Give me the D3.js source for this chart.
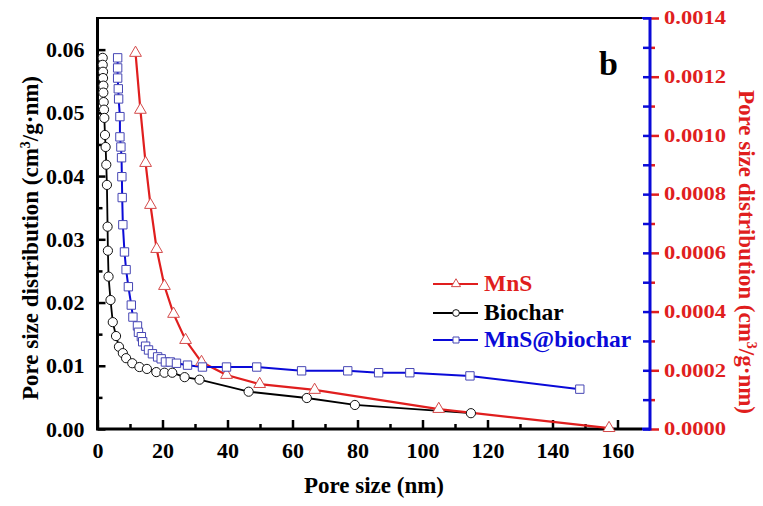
<!DOCTYPE html>
<html>
<head>
<meta charset="utf-8">
<script src="https://cdn.jsdelivr.net/npm/d3@7"></script>
<style>
  body { margin: 0; background: #fff; }
  text { font-family: "Liberation Serif", "Times New Roman", serif; font-weight: bold; }
</style>
</head>
<body>
<div id="chart"></div>
<script>
// MnS -> right axis, Biochar and MnS@biochar -> left axis
var mnsX = [11.7, 13.2, 14.8, 16.3, 18.2, 20.6, 23.4, 27.1, 32.0, 39.7, 49.9, 66.8, 105.0, 157.4];
var mnsY = [0.001281, 0.001087, 0.000906, 0.000763, 0.000613, 0.000487, 0.000392, 0.000303, 0.000228, 0.000184, 0.000153, 0.000133, 0.000068, 0.000003];

var biocharX = [1.6, 1.6, 1.7, 1.7, 1.8, 1.8, 1.9, 2.0, 2.1, 2.3, 2.5, 2.7, 2.9, 3.1, 3.2, 3.4, 4.0, 4.7, 5.7, 6.6, 7.8, 8.8, 10.7, 12.9, 15.2, 18.1, 20.6, 23.0, 26.8, 31.4, 46.5, 64.4, 79.2, 114.9];
var biocharY = [0.0587, 0.0576, 0.0565, 0.0555, 0.0543, 0.0532, 0.0517, 0.0505, 0.0492, 0.0465, 0.0446, 0.0418, 0.0386, 0.0320, 0.0282, 0.0241, 0.0204, 0.0169, 0.0147, 0.0130, 0.0120, 0.0112, 0.0104, 0.0098, 0.0095, 0.0090, 0.0089, 0.0089, 0.0082, 0.0078, 0.0059, 0.0049, 0.0038, 0.0025];

var mnsBiocharX = [6.2, 6.2, 6.2, 6.4, 6.5, 6.9, 6.9, 7.2, 7.4, 7.5, 7.6, 7.8, 8.3, 8.8, 9.5, 10.4, 10.9, 12.3, 12.6, 13.5, 13.9, 14.8, 15.7, 16.9, 18.5, 19.6, 20.9, 22.4, 24.3, 27.7, 32.3, 39.7, 49.0, 62.8, 77.0, 86.5, 96.1, 114.6, 148.4];
var mnsBiocharY = [0.0587, 0.0571, 0.0555, 0.0538, 0.0522, 0.0494, 0.0462, 0.0446, 0.0429, 0.0399, 0.0366, 0.0323, 0.0280, 0.0252, 0.0225, 0.0196, 0.0177, 0.0163, 0.0153, 0.0146, 0.0138, 0.0131, 0.0125, 0.0119, 0.0114, 0.0111, 0.0106, 0.0106, 0.0104, 0.0101, 0.0098, 0.0098, 0.0098, 0.0092, 0.0092, 0.0089, 0.0089, 0.0084, 0.0063];

var xTicks = [0, 20, 40, 60, 80, 100, 120, 140, 160];
var leftTicks = [0, 0.01, 0.02, 0.03, 0.04, 0.05, 0.06];
var rightTicks = [0, 0.0002, 0.0004, 0.0006, 0.0008, 0.0010, 0.0012, 0.0014];
var legendNames = ["MnS", "Biochar", "MnS@biochar"];

var RED = "#e01e1e", BLUE = "#0a0ad8", NAVY = "#4646b4";

var width = 763, height = 506;
var pL = 97.5, pR = 650, pT = 18, pB = 429;

var svg = d3.select("#chart").append("svg")
  .attr("width", width).attr("height", height);

var x = d3.scaleLinear().domain([0, 170]).range([pL, pR]);
var yL = d3.scaleLinear().domain([0, 0.065]).range([pB, pT]);
var yR = d3.scaleLinear().domain([0, 0.0014]).range([pB, pT]);

function pts(xs, ys) { return xs.map(function(v, i) { return [v, ys[i]]; }); }
var biochar = pts(biocharX, biocharY);
var mns = pts(mnsX, mnsY);
var mnsBiochar = pts(mnsBiocharX, mnsBiocharY);

// x axis
var xa = svg.append("g").attr("transform", "translate(0," + pB + ")")
  .call(d3.axisBottom(x).tickValues(xTicks).tickSize(-9).tickPadding(13).tickFormat(d3.format("d")));
xa.select(".domain").remove();
xa.selectAll("line").attr("stroke", "#000").attr("stroke-width", 2.5);
xa.selectAll("text").style("font-size", "22px").attr("fill", "#000");
var xm = svg.append("g").attr("transform", "translate(0," + pB + ")")
  .call(d3.axisBottom(x).tickValues(d3.range(10, 170, 20)).tickSize(-5).tickFormat(""));
xm.select(".domain").remove();
xm.selectAll("line").attr("stroke", "#000").attr("stroke-width", 2.5);

// left axis
var la = svg.append("g").attr("transform", "translate(" + pL + ",0)")
  .call(d3.axisLeft(yL).tickValues(leftTicks).tickSize(-8).tickPadding(13).tickFormat(d3.format(".2f")));
la.select(".domain").remove();
la.selectAll("line").attr("stroke", "#000").attr("stroke-width", 2.5);
la.selectAll("text").style("font-size", "22px").attr("fill", "#000");
var lm = svg.append("g").attr("transform", "translate(" + pL + ",0)")
  .call(d3.axisLeft(yL).tickValues(d3.range(0.005, 0.065, 0.01)).tickSize(-5).tickFormat(""));
lm.select(".domain").remove();
lm.selectAll("line").attr("stroke", "#000").attr("stroke-width", 2.5);

// right axis: blue inside, red outside
var ra = svg.append("g").attr("transform", "translate(" + pR + ",0)")
  .call(d3.axisRight(yR).tickValues(rightTicks).tickSize(9).tickPadding(5).tickFormat(d3.format(".4f")));
ra.select(".domain").remove();
ra.selectAll("line").attr("stroke", RED).attr("stroke-width", 2.5);
ra.selectAll("text").style("font-size", "18px").attr("fill", RED)
  .attr("textLength", 62).attr("lengthAdjust", "spacingAndGlyphs");
var rm = svg.append("g").attr("transform", "translate(" + pR + ",0)")
  .call(d3.axisRight(yR).tickValues(d3.range(0.0001, 0.0014, 0.0002)).tickSize(5).tickFormat(""));
rm.select(".domain").remove();
rm.selectAll("line").attr("stroke", RED).attr("stroke-width", 2.5);
var ri = svg.append("g").attr("transform", "translate(" + pR + ",0)")
  .call(d3.axisRight(yR).tickValues(d3.range(0, 0.00141, 0.0001)).tickSize(-7).tickFormat(""));
ri.select(".domain").remove();
ri.selectAll("line").attr("stroke", BLUE).attr("stroke-width", 2.5);

// frame
svg.append("line").attr("x1", pL).attr("x2", pR - 8).attr("y1", pT).attr("y2", pT)
  .attr("stroke", "#000").attr("stroke-width", 2);
svg.append("line").attr("x1", pR - 8).attr("x2", pR).attr("y1", pT).attr("y2", pT)
  .attr("stroke", BLUE).attr("stroke-width", 2);
svg.append("line").attr("x1", pL - 1.5).attr("x2", pR - 8).attr("y1", pB).attr("y2", pB)
  .attr("stroke", "#000").attr("stroke-width", 3);
svg.append("line").attr("x1", pR - 8).attr("x2", pR).attr("y1", pB).attr("y2", pB)
  .attr("stroke", BLUE).attr("stroke-width", 3);
svg.append("line").attr("x1", pL).attr("x2", pL).attr("y1", pT - 1).attr("y2", pB)
  .attr("stroke", "#000").attr("stroke-width", 3);
svg.append("line").attr("x1", pR).attr("x2", pR).attr("y1", pT - 1).attr("y2", pB + 1.5)
  .attr("stroke", BLUE).attr("stroke-width", 3);

// series
var lineL = d3.line().x(function(d) { return x(d[0]); }).y(function(d) { return yL(d[1]); });
var lineR = d3.line().x(function(d) { return x(d[0]); }).y(function(d) { return yR(d[1]); });

svg.append("path").datum(biochar).attr("d", lineL).attr("fill", "none").attr("stroke", "#000").attr("stroke-width", 1.8);
svg.append("path").datum(mns).attr("d", lineR).attr("fill", "none").attr("stroke", RED).attr("stroke-width", 2.2);
svg.append("path").datum(mnsBiochar).attr("d", lineL).attr("fill", "none").attr("stroke", BLUE).attr("stroke-width", 2);

var tri = d3.symbol().type(d3.symbolTriangle).size(60);
var sq = d3.symbol().type(d3.symbolSquare).size(70);

svg.append("g").selectAll("circle").data(biochar).join("circle")
  .attr("cx", function(d) { return x(d[0]); }).attr("cy", function(d) { return yL(d[1]); })
  .attr("r", 4.6).attr("fill", "#fff").attr("stroke", "#111").attr("stroke-width", 1);
svg.append("g").selectAll("path").data(mns).join("path")
  .attr("d", tri).attr("transform", function(d) { return "translate(" + x(d[0]) + "," + yR(d[1]) + ")"; })
  .attr("fill", "#fff").attr("stroke", "#d44a4a").attr("stroke-width", 1);
svg.append("g").selectAll("path").data(mnsBiochar).join("path")
  .attr("d", sq).attr("transform", function(d) { return "translate(" + x(d[0]) + "," + yL(d[1]) + ")"; })
  .attr("fill", "#fff").attr("stroke", NAVY).attr("stroke-width", 1);

// legend
var legColors = [RED, "#000", BLUE];
var legY = [284, 313, 340];
var leg = svg.append("g");
legendNames.forEach(function(name, i) {
  leg.append("line").attr("x1", 433).attr("x2", 478).attr("y1", legY[i]).attr("y2", legY[i])
    .attr("stroke", legColors[i]).attr("stroke-width", 2);
  var m;
  if (i == 0) {
    m = leg.append("path").attr("d", d3.symbol().type(d3.symbolTriangle).size(36)).attr("stroke", "#d44a4a");
  } else if (i == 1) {
    m = leg.append("path").attr("d", d3.symbol().type(d3.symbolCircle).size(36)).attr("stroke", "#111");
  } else {
    m = leg.append("path").attr("d", d3.symbol().type(d3.symbolSquare).size(36)).attr("stroke", NAVY);
  }
  m.attr("transform", "translate(456," + legY[i] + ")").attr("fill", "#fff").attr("stroke-width", 1);
  leg.append("text").attr("x", 484).attr("y", legY[i] + 7).style("font-size", "23.5px")
    .attr("fill", legColors[i]).text(name);
});

// panel label
svg.append("text").attr("x", 599).attr("y", 75).style("font-size", "34px").attr("fill", "#000").text("b");

// axis titles
svg.append("text").attr("x", 374).attr("y", 493).attr("text-anchor", "middle")
  .style("font-size", "23px").text("Pore size (nm)");

var lt = svg.append("text").attr("transform", "translate(38,238) rotate(-90)").attr("text-anchor", "middle")
  .style("font-size", "23px").attr("fill", "#000");
lt.append("tspan").text("Pore size distribution (cm");
lt.append("tspan").attr("dy", -8).style("font-size", "14px").text("3");
lt.append("tspan").attr("dy", 8).text("/g\u00b7nm)");

var rt = svg.append("text").attr("transform", "translate(739,252) rotate(90)").attr("text-anchor", "middle")
  .style("font-size", "23px").attr("fill", RED);
rt.append("tspan").text("Pore size distribution (cm");
rt.append("tspan").attr("dy", -8).style("font-size", "14px").text("3");
rt.append("tspan").attr("dy", 8).text("/g\u00b7nm)");
</script>
</body>
</html>
